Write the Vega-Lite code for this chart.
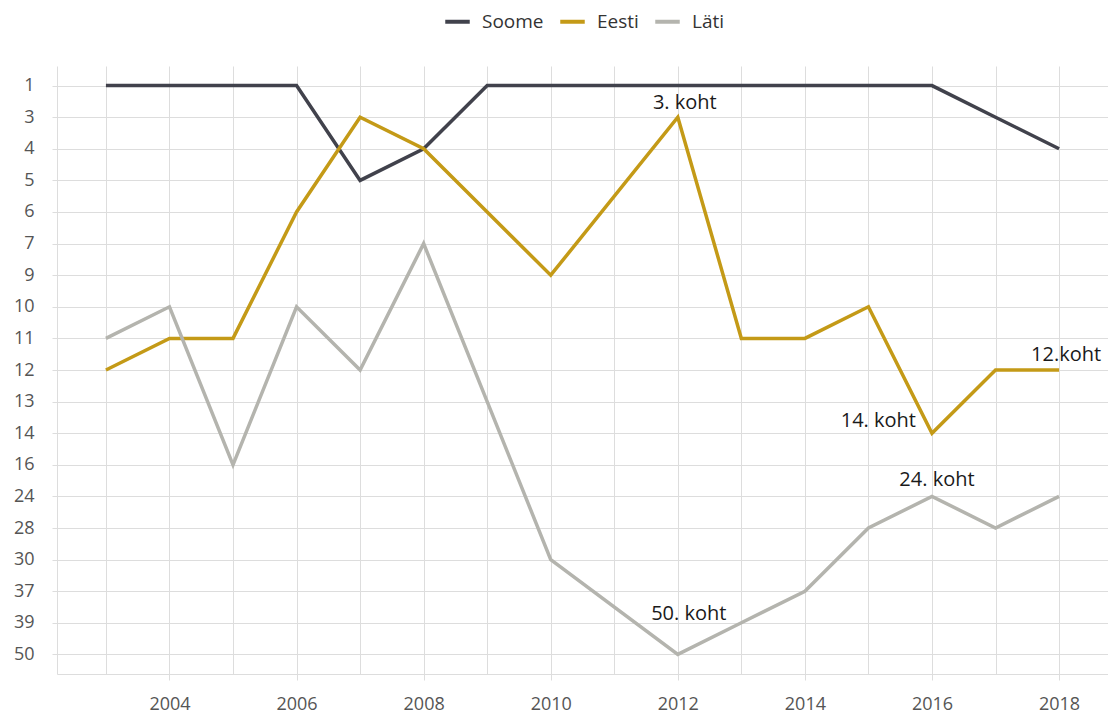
{
  "$schema": "https://vega.github.io/schema/vega-lite/v6.json",
  "width": 1051,
  "height": 608,
  "autosize": {"type": "none"},
  "padding": {"left": 57, "top": 66, "right": 0, "bottom": 43},
  "background": "white",
  "config": {
    "font": "Open Sans",
    "view": {"stroke": null},
    "axis": {"labelFont": "Open Sans", "labelFontSize": 18, "labelColor": "#555555", "gridColor": "#dddddd", "gridWidth": 1, "domainColor": "#dddddd", "tickColor": "#dddddd", "title": null}
  },
  "datasets": {
    "ranks": [
      {"riik": "Soome", "aasta": 2003, "koht": 1},
      {"riik": "Soome", "aasta": 2004, "koht": 1},
      {"riik": "Soome", "aasta": 2005, "koht": 1},
      {"riik": "Soome", "aasta": 2006, "koht": 1},
      {"riik": "Soome", "aasta": 2007, "koht": 5},
      {"riik": "Soome", "aasta": 2008, "koht": 4},
      {"riik": "Soome", "aasta": 2009, "koht": 1},
      {"riik": "Soome", "aasta": 2010, "koht": 1},
      {"riik": "Soome", "aasta": 2012, "koht": 1},
      {"riik": "Soome", "aasta": 2013, "koht": 1},
      {"riik": "Soome", "aasta": 2014, "koht": 1},
      {"riik": "Soome", "aasta": 2015, "koht": 1},
      {"riik": "Soome", "aasta": 2016, "koht": 1},
      {"riik": "Soome", "aasta": 2017, "koht": 3},
      {"riik": "Soome", "aasta": 2018, "koht": 4},
      {"riik": "Eesti", "aasta": 2003, "koht": 12},
      {"riik": "Eesti", "aasta": 2004, "koht": 11},
      {"riik": "Eesti", "aasta": 2005, "koht": 11},
      {"riik": "Eesti", "aasta": 2006, "koht": 6},
      {"riik": "Eesti", "aasta": 2007, "koht": 3},
      {"riik": "Eesti", "aasta": 2008, "koht": 4},
      {"riik": "Eesti", "aasta": 2009, "koht": 6},
      {"riik": "Eesti", "aasta": 2010, "koht": 9},
      {"riik": "Eesti", "aasta": 2012, "koht": 3},
      {"riik": "Eesti", "aasta": 2013, "koht": 11},
      {"riik": "Eesti", "aasta": 2014, "koht": 11},
      {"riik": "Eesti", "aasta": 2015, "koht": 10},
      {"riik": "Eesti", "aasta": 2016, "koht": 14},
      {"riik": "Eesti", "aasta": 2017, "koht": 12},
      {"riik": "Eesti", "aasta": 2018, "koht": 12},
      {"riik": "Läti", "aasta": 2003, "koht": 11},
      {"riik": "Läti", "aasta": 2004, "koht": 10},
      {"riik": "Läti", "aasta": 2005, "koht": 16},
      {"riik": "Läti", "aasta": 2006, "koht": 10},
      {"riik": "Läti", "aasta": 2007, "koht": 12},
      {"riik": "Läti", "aasta": 2008, "koht": 7},
      {"riik": "Läti", "aasta": 2009, "koht": 13},
      {"riik": "Läti", "aasta": 2010, "koht": 30},
      {"riik": "Läti", "aasta": 2012, "koht": 50},
      {"riik": "Läti", "aasta": 2013, "koht": 39},
      {"riik": "Läti", "aasta": 2014, "koht": 37},
      {"riik": "Läti", "aasta": 2015, "koht": 28},
      {"riik": "Läti", "aasta": 2016, "koht": 24},
      {"riik": "Läti", "aasta": 2017, "koht": 28},
      {"riik": "Läti", "aasta": 2018, "koht": 24}
    ],
    "notes": [
      {"aasta": 2012, "koht": 3, "silt": "3. koht"},
      {"aasta": 2012, "koht": 50, "silt": "50. koht"},
      {"aasta": 2016, "koht": 14, "silt": "14. koht"},
      {"aasta": 2016, "koht": 24, "silt": "24. koht"},
      {"aasta": 2018, "koht": 12, "silt": "12.koht"}
    ]
  },
  "encoding": {
    "x": {
      "field": "aasta", "type": "quantitative",
      "scale": {"domain": [2002.23, 2018.77], "nice": false, "zero": false},
      "axis": {
        "values": [2003, 2004, 2005, 2006, 2007, 2008, 2009, 2010, 2011, 2012, 2013, 2014, 2015, 2016, 2017, 2018],
        "format": "d",
        "labelExpr": "datum.value % 2 == 0 ? datum.label : ''",
        "tickSize": 6,
        "tickOpacity": {"condition": {"test": "datum.value % 2 == 0", "value": 1}, "value": 0},
        "labelPadding": 15,
        "grid": true
      }
    },
    "y": {
      "field": "koht", "type": "ordinal",
      "scale": {"type": "point", "domain": [1, 3, 4, 5, 6, 7, 9, 10, 11, 12, 13, 14, 16, 24, 28, 30, 37, 39, 50], "padding": 0.62},
      "axis": {"grid": true, "tickSize": 5, "labelPadding": 18}
    }
  },
  "layer": [
    {
      "data": {"name": "ranks"},
      "mark": {"type": "line", "strokeWidth": 3.5},
      "encoding": {
        "order": {"field": "aasta", "type": "quantitative"},
        "color": {
          "field": "riik", "type": "nominal",
          "scale": {"domain": ["Soome", "Eesti", "Läti"], "range": ["#41424c", "#c49a17", "#b4b4ae"]},
          "legend": {
            "title": null, "orient": "none", "direction": "horizontal",
            "legendX": 386, "legendY": -59,
            "symbolType": "stroke", "symbolStrokeWidth": 4, "symbolSize": 600,
            "labelFont": "Open Sans", "labelFontSize": 19, "labelColor": "#333333",
            "labelOffset": 10,
            "columnPadding": 8
          }
        }
      }
    },
    {
      "data": {"name": "notes"},
      "transform": [{"filter": "datum.silt == '3. koht'"}],
      "mark": {"type": "text", "fontSize": 20, "color": "#1a1a1a", "align": "center", "baseline": "alphabetic", "dx": 7, "dy": -8},
      "encoding": {"text": {"field": "silt"}}
    },
    {
      "data": {"name": "notes"},
      "transform": [{"filter": "datum.silt == '50. koht'"}],
      "mark": {"type": "text", "fontSize": 20, "color": "#1a1a1a", "align": "center", "baseline": "alphabetic", "dx": 11, "dy": -34},
      "encoding": {"text": {"field": "silt"}}
    },
    {
      "data": {"name": "notes"},
      "transform": [{"filter": "datum.silt == '14. koht'"}],
      "mark": {"type": "text", "fontSize": 20, "color": "#1a1a1a", "align": "right", "baseline": "alphabetic", "dx": -16, "dy": -6},
      "encoding": {"text": {"field": "silt"}}
    },
    {
      "data": {"name": "notes"},
      "transform": [{"filter": "datum.silt == '24. koht'"}],
      "mark": {"type": "text", "fontSize": 20, "color": "#1a1a1a", "align": "center", "baseline": "alphabetic", "dx": 5, "dy": -10},
      "encoding": {"text": {"field": "silt"}}
    },
    {
      "data": {"name": "notes"},
      "transform": [{"filter": "datum.silt == '12.koht'"}],
      "mark": {"type": "text", "fontSize": 20, "color": "#1a1a1a", "align": "center", "baseline": "alphabetic", "dx": 7, "dy": -9},
      "encoding": {"text": {"field": "silt"}}
    }
  ]
}
